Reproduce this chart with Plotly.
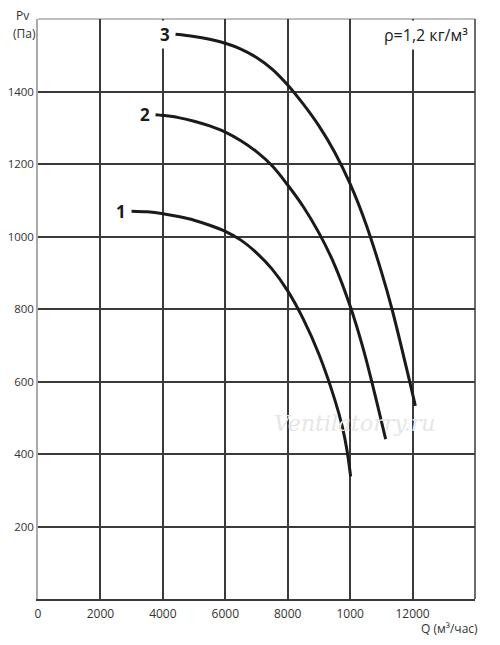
import plotly.graph_objects as go

# Curve data (Q in m3/h, Pv in Pa)
q1 = [2997, 3500, 4000, 4500, 5000, 5500, 6000, 6500, 7000, 7500, 8000, 8500, 9000, 9500, 9750, 9900, 10016]
p1 = [1070, 1068, 1063, 1055, 1045, 1031, 1014, 990, 955, 910, 850, 772, 675, 552, 475, 410, 338]

q2 = [3766, 4000, 4500, 5000, 5500, 6000, 6500, 7000, 7500, 8000, 8500, 9000, 9500, 10000, 10400, 10700, 11138]
p2 = [1336, 1334, 1328, 1318, 1305, 1288, 1264, 1234, 1195, 1142, 1082, 1010, 922, 808, 696, 597, 441]

q3 = [4407, 5000, 5500, 6000, 6500, 7000, 7500, 8000, 8500, 9000, 9500, 10000, 10500, 11000, 11340, 11907, 12090]
p3 = [1558, 1552, 1544, 1533, 1517, 1494, 1462, 1418, 1365, 1305, 1233, 1145, 1036, 903, 800, 600, 533]

curve_labels = ["1", "2", "3"]

x_tickvals = [0, 2000, 4000, 6000, 8000, 10000, 12000, 14000]
x_ticktext = ["0", "2000", "4000", "6000", "8000", "1000", "12000", "14000"]
y_tickvals = [200, 400, 600, 800, 1000, 1200, 1400]
y_ticktext = ["200", "400", "600", "800", "1000", "1200", "1400"]

FONT = "Open Sans"
LINE = "#1a1a1a"
GRID = "#3a3a3a"

fig = go.Figure()
for q, p in [(q1, p1), (q2, p2), (q3, p3)]:
    fig.add_trace(go.Scatter(x=q, y=p, mode="lines",
                             line=dict(color=LINE, width=3, shape="spline", smoothing=1.0),
                             hoverinfo="skip", showlegend=False))

# page body has an 8px margin, so the figure is offset by (8, 8)
fig.update_layout(
    width=484, height=629,
    margin=dict(l=30, r=17, t=11, b=38, autoexpand=False),
    paper_bgcolor="white", plot_bgcolor="white",
    font=dict(family=FONT, size=12, color="#333"),
    xaxis=dict(range=[0, 14000], tickvals=x_tickvals, ticktext=x_ticktext,
               showgrid=True, gridcolor=GRID, gridwidth=1.5,
               showline=True, linecolor=GRID, linewidth=1.5,
               zeroline=False, ticks="", fixedrange=True, automargin=False,
               ticklabelstandoff=3),
    yaxis=dict(range=[0, 1600], tickvals=y_tickvals, ticktext=y_ticktext,
               showgrid=True, gridcolor=GRID, gridwidth=1.5,
               showline=True, linecolor="#aaaaaa", linewidth=1.5,
               zeroline=False, ticks="", fixedrange=True, automargin=False,
               tickfont=dict(family=FONT, size=11.5, color="#333")),
)

# top (gray) and right (dark) borders
fig.add_shape(type="line", xref="paper", yref="paper", x0=0, x1=1, y0=1, y1=1,
              line=dict(color="#aaaaaa", width=1.5), layer="below")
fig.add_shape(type="line", xref="paper", yref="paper", x0=1, x1=1, y0=0, y1=1,
              line=dict(color=GRID, width=1.5), layer="below")

# curve labels
for q, p, lab in [(q1, p1, curve_labels[0]), (q2, p2, curve_labels[1]), (q3, p3, curve_labels[2])]:
    fig.add_annotation(x=q[0], y=p[0], text="<b>" + lab + "</b>", showarrow=False,
                       xanchor="right", yanchor="middle", xshift=-3, yshift=0,
                       font=dict(family=FONT, size=17, color=LINE),
                       bgcolor="white", borderpad=2)

# axis titles
fig.add_annotation(xref="paper", yref="paper", x=0, y=1, text="Pv", showarrow=False,
                   xanchor="center", yanchor="middle", xshift=-16, yshift=4,
                   font=dict(family=FONT, size=12, color="#333"))
fig.add_annotation(xref="paper", yref="paper", x=0, y=1, text="(Па)", showarrow=False,
                   xanchor="center", yanchor="middle", xshift=-14, yshift=-14,
                   font=dict(family=FONT, size=12, color="#333"))
fig.add_annotation(xref="paper", yref="paper", x=1, y=0, text="Q (м³/час)", showarrow=False,
                   xanchor="center", yanchor="middle", xshift=-26, yshift=-29,
                   font=dict(family=FONT, size=12, color="#333"))
fig.add_annotation(xref="paper", yref="paper", x=1, y=1, text="ρ=1,2 кг/м³", showarrow=False,
                   xanchor="right", yanchor="middle", xshift=-3, yshift=-16,
                   font=dict(family=FONT, size=16, color="#222"),
                   bgcolor="white", borderpad=3)

# watermark
fig.add_annotation(x=10150, y=485, text="<i>Ventilatorry.ru</i>", showarrow=False,
                   xanchor="center", yanchor="middle",
                   font=dict(family="DejaVu Serif", size=22, color="#e6e6e6"))

fig.write_html("out.html")
